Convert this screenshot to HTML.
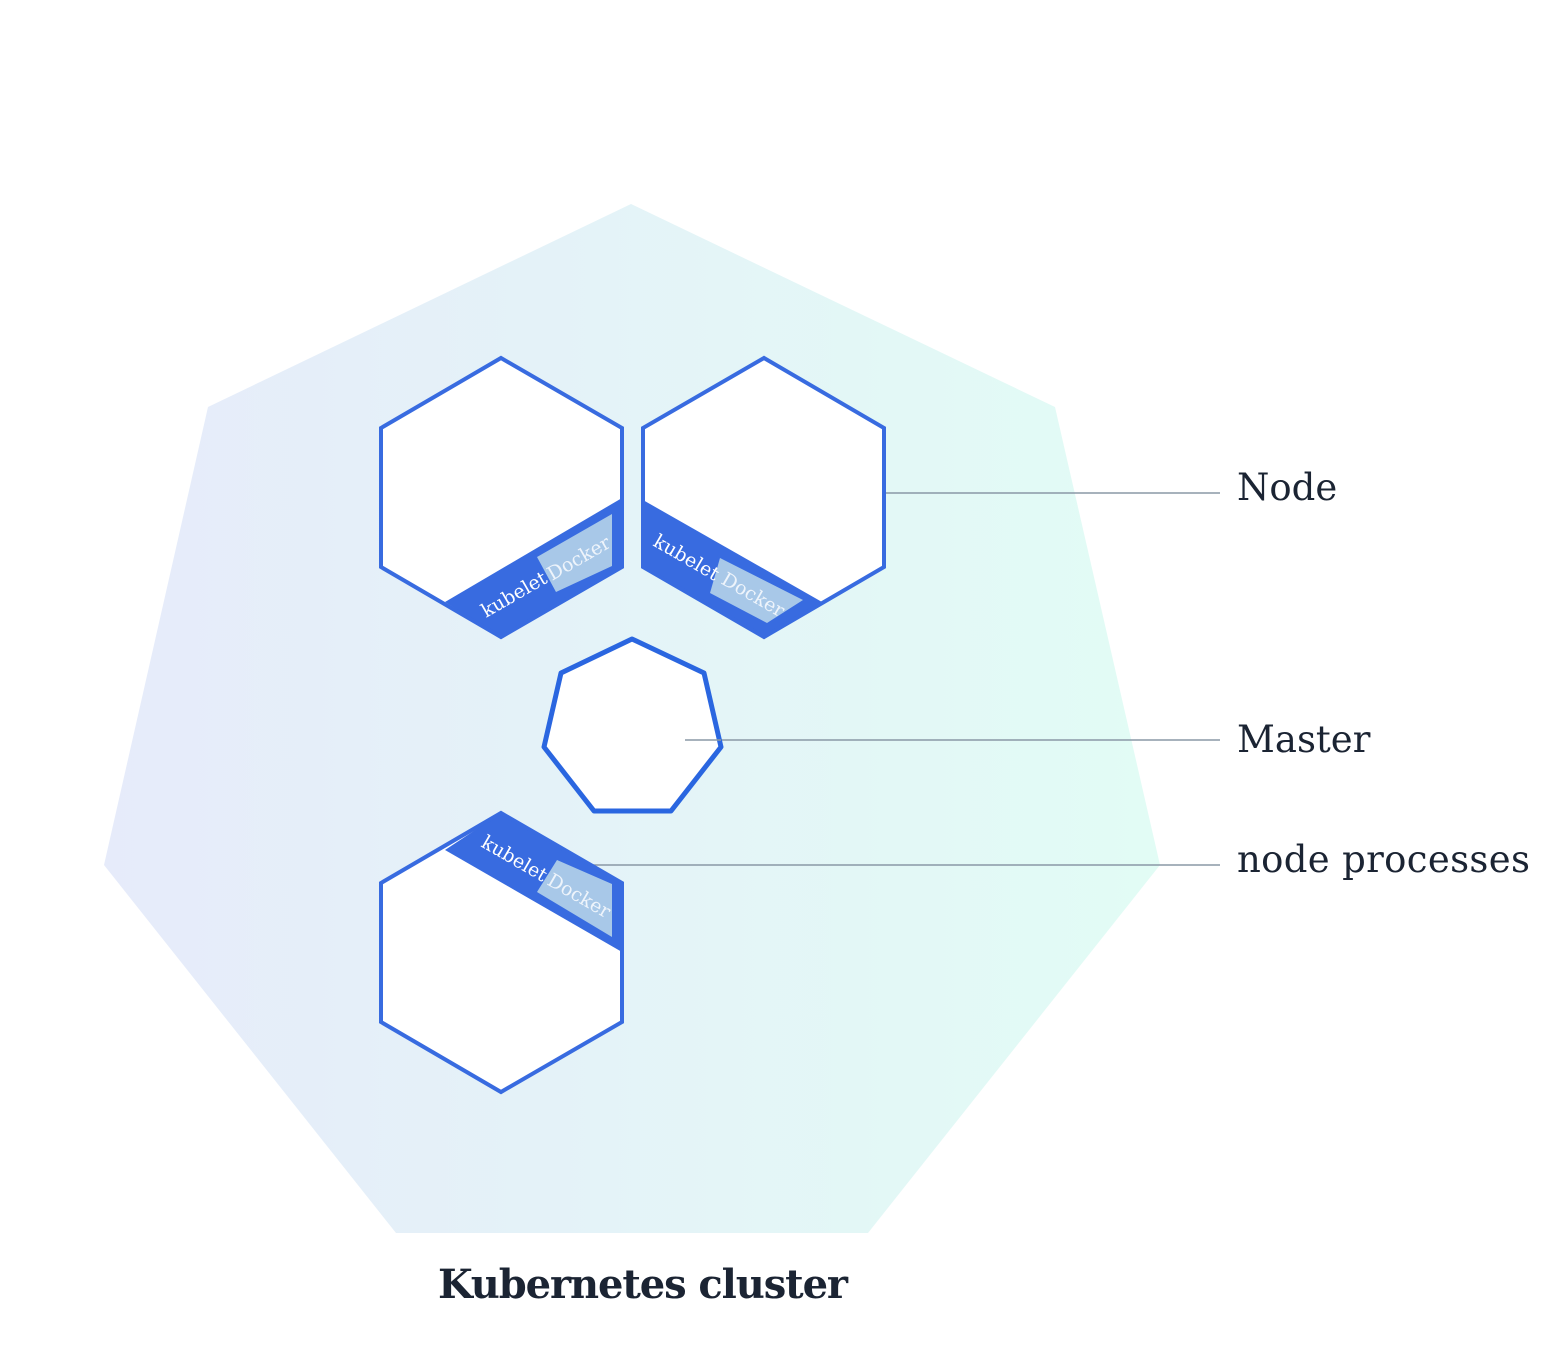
<!DOCTYPE html>
<html><head><meta charset="utf-8"><style>
html,body{margin:0;padding:0;background:#fff;}
svg{display:block}
</style></head><body>
<svg width="1567" height="1350" viewBox="0 0 1567 1350" xmlns="http://www.w3.org/2000/svg">
<defs>
<linearGradient id="g" x1="104" y1="0" x2="1160" y2="0" gradientUnits="userSpaceOnUse">
<stop offset="0" stop-color="#e6ebfa"/><stop offset="1" stop-color="#e2fcf5"/>
</linearGradient>
</defs>
<polygon points="631,204 1055,407 1160,865 868,1233 396,1233 104,865 208,407" fill="url(#g)"/>
<g stroke="#8a98a6" stroke-width="1.6">
<line x1="884" y1="493" x2="1220" y2="493"/>
<line x1="685" y1="740" x2="1220" y2="740"/>
<line x1="590" y1="865" x2="1220" y2="865"/>
</g>
<!-- hex1 -->
<polygon points="501,358 622,428 622,567 501,637 381,567 381,428" fill="#fff"/>
<polygon points="445,602 622,498 622,567 501,637" fill="#386be0"/>
<polygon points="537,557 612,514 612,566 556,592" fill="#a8c8e8"/>
<polygon points="501,358 622,428 622,567 501,637 381,567 381,428" fill="none" stroke="#386be0" stroke-width="4"/>
<text transform="translate(486,618) rotate(-30)" font-family="DejaVu Serif, serif" font-size="19" fill="#fff">kubelet</text>
<text transform="translate(552,581) rotate(-30)" font-family="DejaVu Serif, serif" font-size="19" fill="#eef4fb">Docker</text>
<!-- hex2 -->
<polygon points="764,358 884,428 884,567 764,637 643,567 643,428" fill="#fff"/>
<polygon points="643,500 822,602 764,637 643,567" fill="#386be0"/>
<polygon points="720,558 803,600 767,623 710,593" fill="#a8c8e8"/>
<polygon points="764,358 884,428 884,567 764,637 643,567 643,428" fill="none" stroke="#386be0" stroke-width="4"/>
<text transform="translate(652,545) rotate(30)" font-family="DejaVu Serif, serif" font-size="19" fill="#fff">kubelet</text>
<text transform="translate(720,583) rotate(30)" font-family="DejaVu Serif, serif" font-size="19" fill="#eef4fb">Docker</text>
<!-- hex3 -->
<polygon points="501,813 622,883 622,1022 501,1092 381,1022 381,883" fill="#fff"/>
<polygon points="445,850 501,813 622,883 622,952" fill="#386be0"/>
<polygon points="557,860 612,884 612,937 537,892" fill="#a8c8e8"/>
<polygon points="501,813 622,883 622,1022 501,1092 381,1022 381,883" fill="none" stroke="#386be0" stroke-width="4"/>
<text transform="translate(480,846) rotate(30)" font-family="DejaVu Serif, serif" font-size="19" fill="#fff">kubelet</text>
<text transform="translate(546,884) rotate(30)" font-family="DejaVu Serif, serif" font-size="19" fill="#eef4fb">Docker</text>
<!-- master -->
<polygon points="632,639 704,673 721,747 671,811 594,811 544,747 561,673" fill="#fff" stroke="#2a66e0" stroke-width="5" stroke-linejoin="round"/>
<line x1="685" y1="740" x2="721" y2="740" stroke="#8a98a6" stroke-width="1.6"/>
<g font-family="DejaVu Serif, serif" font-size="37" fill="#1b2433">
<text x="1237" y="500">Node</text>
<text x="1237" y="752">Master</text>
<text x="1237" y="872" textLength="293">node processes</text>
</g>
<text x="643" y="1298" text-anchor="middle" font-family="DejaVu Serif, serif" font-weight="bold" font-size="40" fill="#1b2433" textLength="410">Kubernetes cluster</text>
</svg>
</body></html>
